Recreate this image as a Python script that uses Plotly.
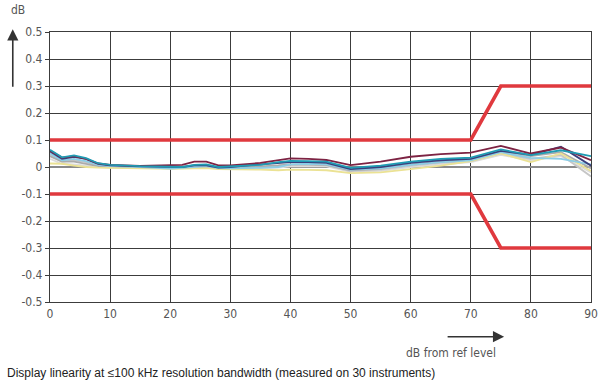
import plotly.graph_objects as go

# ---------------- data ----------------
x_points = [0, 2, 4, 6, 8, 10, 15, 20, 22, 24, 26, 28, 30, 35, 38, 40, 43, 46, 50, 55, 60, 65, 70, 75, 80, 85, 90]

silver = [0.03, 0.012, 0.01, 0.005, 0.0, -0.002, -0.004, -0.006, -0.005, 0.0, 0.002, -0.006, -0.006, -0.004, -0.002, 0.002, 0.003, 0.002, -0.018, -0.014, 0.0, 0.01, 0.018, 0.045, 0.025, 0.04, -0.02]
light_gray = [0.045, 0.02, 0.025, 0.018, 0.005, 0.002, -0.002, -0.004, -0.002, 0.005, 0.006, -0.004, -0.003, 0.0, 0.005, 0.008, 0.008, 0.006, -0.015, -0.01, 0.005, 0.015, 0.022, 0.05, 0.03, 0.045, -0.035]
gray = [0.04, 0.02, 0.02, 0.012, 0.003, 0.0, -0.003, -0.003, -0.001, 0.003, 0.004, -0.003, -0.002, 0.002, 0.006, 0.01, 0.01, 0.008, -0.012, -0.006, 0.01, 0.02, 0.028, 0.058, 0.04, 0.055, -0.005]
yellow = [0.013, 0.012, 0.005, 0.0, -0.002, -0.003, -0.004, -0.007, -0.006, -0.004, -0.004, -0.008, -0.008, -0.01, -0.012, -0.01, -0.011, -0.012, -0.023, -0.02, -0.008, 0.005, 0.022, 0.05, 0.018, 0.05, -0.015]
light_blue = [0.05, 0.025, 0.03, 0.022, 0.008, 0.003, 0.0, -0.006, -0.003, 0.0, 0.003, -0.004, -0.005, -0.003, 0.0, 0.01, 0.012, 0.01, -0.01, -0.005, 0.008, 0.018, 0.025, 0.055, 0.034, 0.03, 0.01]
navy = [0.058, 0.03, 0.038, 0.03, 0.012, 0.006, 0.002, -0.001, 0.0, 0.006, 0.006, -0.002, 0.0, 0.01, 0.015, 0.018, 0.018, 0.015, -0.008, 0.0, 0.015, 0.025, 0.03, 0.06, 0.045, 0.075, 0.005]
maroon = [0.06, 0.035, 0.04, 0.03, 0.013, 0.008, 0.004, 0.006, 0.008, 0.02, 0.02, 0.006, 0.006, 0.015, 0.025, 0.032, 0.03, 0.026, 0.007, 0.02, 0.038, 0.048, 0.053, 0.078, 0.05, 0.072, 0.025]
teal = [0.064, 0.036, 0.043, 0.033, 0.014, 0.008, 0.003, 0.0, 0.0, 0.008, 0.01, 0.0, 0.002, 0.008, 0.018, 0.023, 0.022, 0.02, -0.003, 0.005, 0.02, 0.03, 0.035, 0.065, 0.044, 0.062, 0.04]

limit_x = [0, 70, 75, 90]
limit_upper = [0.1, 0.1, 0.3, 0.3]
limit_lower = [-0.1, -0.1, -0.3, -0.3]

y_tickvals = [-0.5, -0.4, -0.3, -0.2, -0.1, 0, 0.1, 0.2, 0.3, 0.4, 0.5]
y_ticktext = ['-0.5', '-0.4', '-0.3', '-0.2', '-0.1', '0', '0.1', '0.2', '0.3', '0.4', '0.5']
x_tickvals = [0, 10, 20, 30, 40, 50, 60, 70, 80, 90]

# ---------------- figure ----------------
series = [
    (silver, '#dcdcdc'),
    (light_gray, '#c6c6c6'),
    (gray, '#ababab'),
    (yellow, '#ebe294'),
    (light_blue, '#8ccde6'),
    (navy, '#3b3f7c'),
    (maroon, '#7d2343'),
    (teal, '#1f9bb3'),
]

fig = go.Figure()
for vals, col in series:
    fig.add_trace(go.Scatter(x=x_points, y=vals, mode='lines',
                             line=dict(color=col, width=1.8), showlegend=False,
                             hoverinfo='skip'))

for lim in (limit_upper, limit_lower):
    fig.add_trace(go.Scatter(x=limit_x, y=lim, mode='lines',
                             line=dict(color='#e0393e', width=3.6), showlegend=False,
                             hoverinfo='skip'))

tick_font = dict(family='Liberation Sans Narrow, DejaVu Sans Condensed, Arial Narrow, sans-serif',
                 size=12, color='#555555')
grid_col = '#3c3c3c'

fig.update_layout(
    width=607, height=382, autosize=False,
    margin=dict(l=50, r=9, t=32, b=80),
    paper_bgcolor='white', plot_bgcolor='white',
    xaxis=dict(range=[0, 90], tickvals=x_tickvals, showgrid=True, gridcolor=grid_col,
               gridwidth=1.3, showline=True, linecolor=grid_col, linewidth=1.3, mirror=True,
               zeroline=False, tickfont=tick_font, ticks='', ticklen=0),
    yaxis=dict(range=[-0.5, 0.5], tickvals=y_tickvals, ticktext=y_ticktext, showgrid=True,
               gridcolor=grid_col, gridwidth=1.3, showline=True, linecolor=grid_col,
               linewidth=1.3, mirror=True, zeroline=True, zerolinecolor='#8a8a8a',
               zerolinewidth=1.6, tickfont=tick_font, ticks='outside', ticklen=4,
               tickcolor=grid_col),
)

# y-axis arrow and label
fig.add_annotation(xref='paper', yref='paper', x=-0.0688, y=1.01, ax=0, ay=59,
                   text='', showarrow=True, arrowhead=2, arrowsize=1.4, arrowwidth=1.6,
                   arrowcolor='#333333')
fig.add_annotation(xref='paper', yref='paper', x=-0.0600, y=1.081, text='dB',
                   showarrow=False, font=tick_font, xanchor='center', yanchor='middle')

# x-axis arrow and label
fig.add_annotation(xref='paper', yref='paper', x=0.8394, y=-0.1285, ax=-58, ay=0,
                   text='', showarrow=True, arrowhead=2, arrowsize=1.4, arrowwidth=1.6,
                   arrowcolor='#333333')
fig.add_annotation(xref='paper', yref='paper', x=0.741, y=-0.189, text='dB from ref level',
                   showarrow=False, font=tick_font, xanchor='center', yanchor='middle')

# caption
fig.add_annotation(xref='paper', yref='paper', x=-0.0839, y=-0.263,
                   text='Display linearity at ≤100 kHz resolution bandwidth (measured on 30 instruments)',
                   showarrow=False, xanchor='left', yanchor='middle',
                   font=dict(family='Liberation Sans, Arial, sans-serif', size=12, color='#222222'))

fig.write_html('out.html', config={'displayModeBar': False},
               post_script="document.body.style.margin='0';document.body.style.overflow='hidden';")
